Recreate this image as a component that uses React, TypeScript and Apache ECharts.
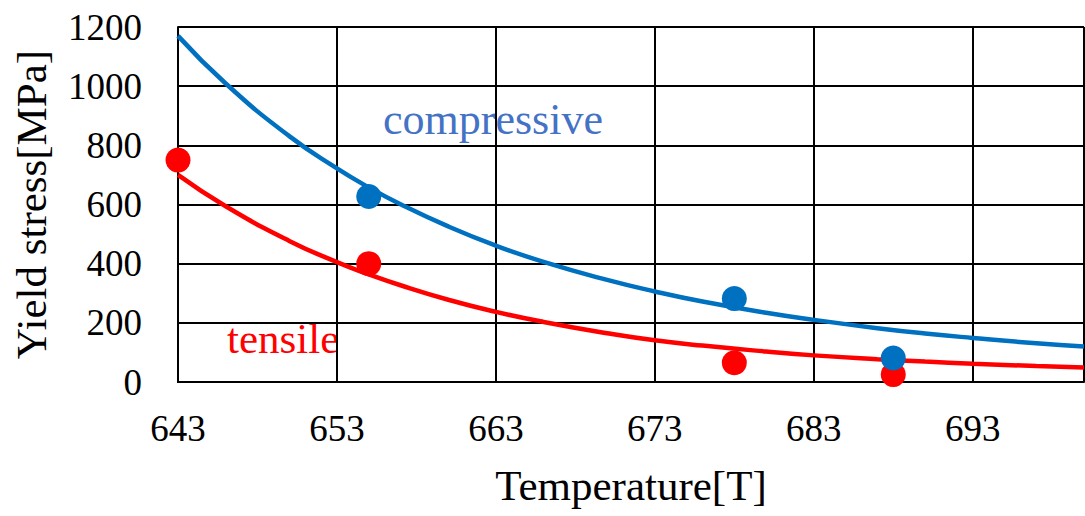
import React, { useEffect, useRef } from "react";
import * as echarts from "echarts";

// Temperature origin of the x axis (first tick label)
const T0 = 643;
const xMaxT = 700;

// Trend curves
const curveTemps = [643, 646, 650, 653, 655, 657, 660, 663, 666, 670, 673, 676, 680, 683, 687, 690, 693, 697, 700];
const compressiveCurve = [1170, 1009, 831, 722, 658, 601, 526, 461, 406, 345, 306, 272, 234, 210, 182, 164, 149, 131, 120];
const tensileCurve = [700, 594, 477, 405, 364, 327, 278, 237, 203, 165, 141, 123, 103, 90, 77, 69, 62, 54, 49];

// Measured points
const tensileTemps = [643, 655, 678, 688];
const tensileValues = [750, 400, 65, 25];
const compressiveTemps = [655, 678, 688];
const compressiveValues = [627, 282, 81];

const SERIF = "'Liberation Serif', 'Times New Roman', serif";
const BLUE = "#0070C0";
const RED = "#FF0000";

const toPairs = (ts: number[], vs: number[]) => ts.map((t, i) => [t - T0, vs[i]]);

export default function App() {
  const ref = useRef<HTMLDivElement>(null);
  useEffect(() => {
    if (!ref.current) return;
    const chart = echarts.init(ref.current, null, { renderer: "svg" });
    const xMax = xMaxT - T0;
    chart.setOption({
      animation: false,
      backgroundColor: "#ffffff",
      grid: { left: 178, right: 1, top: 27, bottom: 134, containLabel: false },
      xAxis: {
        type: "value",
        min: 0,
        max: xMax,
        interval: 10,
        name: "Temperature[T]",
        nameLocation: "middle",
        nameGap: 82,
        nameTextStyle: { fontFamily: SERIF, fontSize: 43, color: "#000" },
        axisLine: { show: true, lineStyle: { color: "#000", width: 2 } },
        axisTick: { show: false },
        splitLine: { show: true, lineStyle: { color: "#000", width: 2 } },
        axisLabel: {
          showMaxLabel: false,
          fontFamily: SERIF,
          fontSize: 37,
          color: "#000",
          margin: 28,
          formatter: (v: number) => (v === xMax ? "" : String(v + T0)),
        },
      },
      yAxis: {
        type: "value",
        min: 0,
        max: 1200,
        interval: 200,
        name: "Yield stress[MPa]",
        nameLocation: "middle",
        nameGap: 125,
        nameTextStyle: { fontFamily: SERIF, fontSize: 43, color: "#000" },
        axisLine: { show: true, lineStyle: { color: "#000", width: 2 } },
        axisTick: { show: false },
        splitLine: { show: true, lineStyle: { color: "#000", width: 2 } },
        axisLabel: {
          fontFamily: SERIF,
          fontSize: 37,
          color: "#000",
          margin: 36,
          formatter: (v: number) => String(v),
        },
      },
      graphic: [
        {
          type: "text",
          x: 383,
          y: 119,
          style: {
            text: "compressive",
            fontFamily: SERIF,
            fontSize: 44,
            fill: "#4472C4",
            verticalAlign: "middle",
            align: "left",
          },
        },
        {
          type: "text",
          x: 227,
          y: 338,
          style: {
            text: "tensile",
            fontFamily: SERIF,
            fontSize: 43,
            fill: RED,
            verticalAlign: "middle",
            align: "left",
          },
        },
      ],
      series: [
        {
          type: "line",
          data: toPairs(curveTemps, tensileCurve),
          smooth: true,
          symbol: "none",
          lineStyle: { color: RED, width: 4.5 },
          z: 2,
        },
        {
          type: "line",
          data: toPairs(curveTemps, compressiveCurve),
          smooth: true,
          symbol: "none",
          lineStyle: { color: BLUE, width: 4.5 },
          z: 2,
        },
        {
          type: "scatter",
          data: toPairs(tensileTemps, tensileValues),
          symbol: "circle",
          symbolSize: 25,
          itemStyle: { color: RED, opacity: 1 },
          z: 3,
        },
        {
          type: "scatter",
          data: toPairs(compressiveTemps, compressiveValues),
          symbol: "circle",
          symbolSize: 25,
          itemStyle: { color: BLUE, opacity: 1 },
          z: 4,
        },
      ],
    });
    return () => chart.dispose();
  }, []);
  return (
    <div
      ref={ref}
      style={{ position: "absolute", left: 0, top: 0, width: 1085, height: 516 }}
    />
  );
}
